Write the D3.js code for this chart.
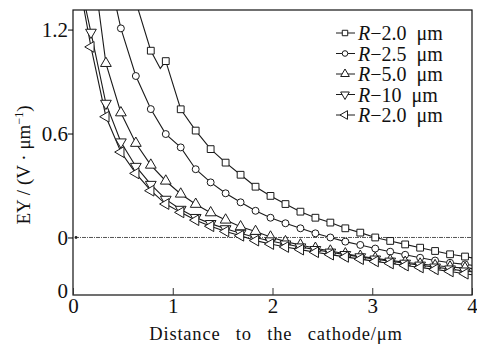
<!DOCTYPE html>
<html>
<head>
<meta charset="utf-8">
<script src="https://cdn.jsdelivr.net/npm/d3@7"></script>
<style>
  body { margin: 0; background: #fff; }
  text { font-family: "Liberation Serif", "DejaVu Serif", serif; fill: #111; }
</style>
</head>
<body>
<div id="chart"></div>
<script>
// values: [distance (um), EY (V/um)]
const seriesNames = ["R\u22122.0 \u03bcm", "R\u22122.5 \u03bcm", "R\u22125.0 \u03bcm", "R\u221210 \u03bcm", "R\u22122.0 \u03bcm"];

const r20 = [[0.63,1.36],[0.78,1.078],[0.93,1.018],[1.08,0.74],[1.23,0.617],[1.38,0.51],[1.53,0.432],
  [1.68,0.362],[1.83,0.293],[1.98,0.24],[2.13,0.193],[2.28,0.149],[2.43,0.114],[2.58,0.086],[2.73,0.053],
  [2.88,0.028],[3.03,0.0],[3.18,-0.02],[3.33,-0.04],[3.48,-0.059],[3.63,-0.078],[3.78,-0.097],[3.93,-0.11],[4.0,-0.118]];
// the little notch in the first curve (no marker there)
const r20Notch = [[0.875,0.976]];

const r25 = [[0.33,1.60],[0.48,1.207],[0.63,0.932],[0.78,0.741],[0.93,0.597],[1.08,0.52],[1.23,0.394],
  [1.38,0.318],[1.53,0.255],[1.68,0.203],[1.83,0.154],[1.98,0.114],[2.13,0.082],[2.28,0.053],[2.43,0.024],
  [2.58,0.0],[2.73,-0.024],[2.88,-0.043],[3.03,-0.064],[3.18,-0.082],[3.33,-0.10],[3.48,-0.117],[3.63,-0.133],
  [3.78,-0.146],[3.93,-0.155],[4.0,-0.16]];

const r50 = [[0.18,1.66],[0.33,1.005],[0.48,0.72],[0.63,0.544],[0.78,0.418],[0.93,0.326],[1.08,0.251],
  [1.23,0.192],[1.38,0.143],[1.53,0.101],[1.68,0.062],[1.83,0.035],[1.98,0.003],[2.13,-0.024],[2.28,-0.043],
  [2.43,-0.062],[2.58,-0.078],[2.73,-0.094],[2.88,-0.108],[3.03,-0.12],[3.18,-0.132],[3.33,-0.143],[3.48,-0.153],
  [3.63,-0.162],[3.78,-0.17],[3.93,-0.177],[4.0,-0.18]];

const r10 = [[0.03,1.58],[0.18,1.184],[0.33,0.774],[0.48,0.551],[0.63,0.41],[0.78,0.306],[0.93,0.22],
  [1.08,0.162],[1.23,0.115],[1.38,0.08],[1.53,0.05],[1.68,0.024],[1.83,0.0],[1.98,-0.02],[2.13,-0.038],
  [2.28,-0.055],[2.43,-0.07],[2.58,-0.085],[2.73,-0.099],[2.88,-0.112],[3.03,-0.125],[3.18,-0.137],[3.33,-0.149],
  [3.48,-0.16],[3.63,-0.171],[3.78,-0.182],[3.93,-0.194],[4.0,-0.198]];

const r20b = [[0.03,1.57],[0.18,1.10],[0.33,0.697],[0.48,0.493],[0.63,0.37],[0.78,0.27],[0.93,0.193],
  [1.08,0.145],[1.23,0.10],[1.38,0.065],[1.53,0.035],[1.68,0.01],[1.83,-0.018],[1.98,-0.038],[2.13,-0.055],
  [2.28,-0.07],[2.43,-0.085],[2.58,-0.099],[2.73,-0.112],[2.88,-0.125],[3.03,-0.138],[3.18,-0.15],[3.33,-0.162],
  [3.48,-0.173],[3.63,-0.184],[3.78,-0.196],[3.93,-0.209],[4.0,-0.215]];

const xTicks = [0, 1, 2, 3, 4];
const yTicks = [1.2, 0.6, 0, -0.332];
const yTickLabels = ["1.2", "0.6", "0", "0"];

// set the dimensions and margins of the graph
const width = 477;
const height = 347;
const margin = {top: 10, right: 5, bottom: 52, left: 73};

const svg = d3.select("#chart")
  .append("svg")
  .attr("width", width)
  .attr("height", height);

const x = d3.scaleLinear().domain([0, 4]).range([margin.left, width - margin.right]);
const y = d3.scaleLinear().domain([-0.332, 1.313]).range([height - margin.bottom, margin.top]);

svg.append("clipPath").attr("id", "plot")
  .append("rect")
  .attr("x", x(0)).attr("y", y(1.313))
  .attr("width", x(4) - x(0)).attr("height", y(-0.332) - y(1.313));

// zero reference line (dash-dot)
svg.append("line")
  .attr("x1", x(0) + 2).attr("x2", x(4))
  .attr("y1", y(0)).attr("y2", y(0))
  .attr("stroke", "#555").attr("stroke-width", 1)
  .attr("stroke-dasharray", "4,1,1,1");
svg.append("circle").attr("cx", x(0) + 3).attr("cy", y(0)).attr("r", 1.4).attr("fill", "#222");

const shapes = [
  {type: d3.symbolSquare, size: 46, rot: 0},
  {type: d3.symbolCircle, size: 38, rot: 0},
  {type: d3.symbolTriangle, size: 50, rot: 0},
  {type: d3.symbolTriangle, size: 50, rot: 180},
  {type: d3.symbolTriangle, size: 50, rot: -90}
];
const allSeries = [r20, r25, r50, r10, r20b];

const line = d3.line().x(d => x(d[0])).y(d => y(d[1]));
const g = svg.append("g").attr("clip-path", "url(#plot)");

allSeries.forEach((data, i) => {
  let pts = data;
  if (i === 0) pts = data.concat(r20Notch).sort((a, b) => a[0] - b[0]);
  g.append("path")
    .attr("d", line(pts))
    .attr("fill", "none")
    .attr("stroke", "#1a1a1a")
    .attr("stroke-width", 1.1);
});

allSeries.forEach((data, i) => {
  const s = shapes[i];
  g.append("g").selectAll("path")
    .data(data.filter(d => d[0] < 3.99))
    .join("path")
    .attr("d", d3.symbol().type(s.type).size(s.size))
    .attr("transform", d => `translate(${x(d[0])},${y(d[1])}) rotate(${s.rot})`)
    .attr("fill", "#fff")
    .attr("stroke", "#1a1a1a")
    .attr("stroke-width", 1);
});

// frame
svg.append("rect")
  .attr("x", x(0)).attr("y", y(1.313))
  .attr("width", x(4) - x(0)).attr("height", y(-0.332) - y(1.313))
  .attr("fill", "none").attr("stroke", "#111").attr("stroke-width", 1.2);

// axes
const xAxis = svg.append("g")
  .attr("transform", `translate(0,${y(-0.332)})`)
  .call(d3.axisBottom(x).tickValues(xTicks).tickFormat(d3.format("d"))
    .tickSize(-7).tickSizeOuter(0).tickPadding(3));
xAxis.select(".domain").remove();
xAxis.selectAll("text").attr("font-size", 21).style("font-family", "Liberation Serif");
xAxis.selectAll("line").attr("stroke", "#333");

const yAxis = svg.append("g")
  .attr("transform", `translate(${x(0)},0)`)
  .call(d3.axisLeft(y).tickValues(yTicks).tickFormat((d, i) => yTickLabels[i])
    .tickSize(5).tickSizeOuter(0).tickPadding(0));
yAxis.select(".domain").remove();
yAxis.selectAll("text").attr("font-size", 21).style("font-family", "Liberation Serif");
yAxis.selectAll(".tick").filter(d => d === -0.332).select("line").remove();
yAxis.selectAll(".tick").filter(d => d === -0.332).select("text").attr("dy", "0.1em");

// axis titles
svg.append("text")
  .attr("x", 276).attr("y", 340)
  .attr("text-anchor", "middle")
  .attr("font-size", 18.5)
  .attr("word-spacing", 10)
  .attr("letter-spacing", 0.8)
  .text("Distance to the cathode/\u03bcm");

const yt = svg.append("text")
  .attr("transform", "translate(30,165) rotate(-90)")
  .attr("text-anchor", "middle")
  .attr("font-size", 19);
yt.append("tspan").text("EY / (V \u00b7 \u03bcm");
yt.append("tspan").attr("font-size", 12).attr("dy", -7).text("\u22121");
yt.append("tspan").attr("dy", 7).text(")");

// legend
const legend = svg.append("g");
seriesNames.forEach((name, i) => {
  const ly = 33 + i * 20.5;
  const row = legend.append("g").attr("transform", `translate(0,${ly})`);
  row.append("line").attr("x1", 336).attr("x2", 355).attr("y1", 0).attr("y2", 0)
    .attr("stroke", "#1a1a1a").attr("stroke-width", 1);
  row.append("path")
    .attr("d", d3.symbol().type(shapes[i].type).size(shapes[i].size * 0.65))
    .attr("transform", `translate(345,0) rotate(${shapes[i].rot})`)
    .attr("fill", "#fff").attr("stroke", "#1a1a1a");
  const t = row.append("text").attr("x", 358).attr("dy", "0.35em").attr("font-size", 20);
  t.append("tspan").attr("font-style", "italic").text("R");
  t.append("tspan").text(name.slice(1).replace(" ", "\u2002"));
});
</script>
</body>
</html>
